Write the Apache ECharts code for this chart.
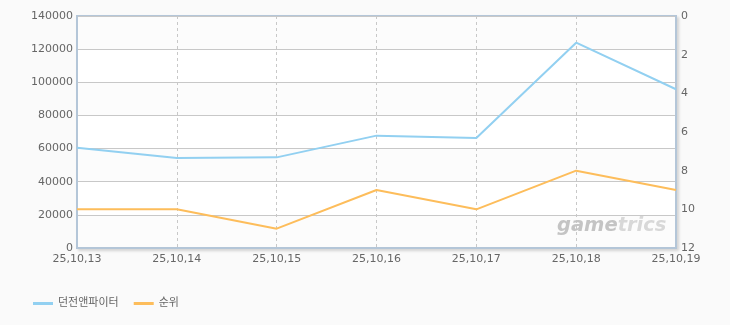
<!DOCTYPE html>
<html><head><meta charset="utf-8">
<script src="https://cdn.jsdelivr.net/npm/echarts@6/dist/echarts.min.js"></script>
<style>html,body{margin:0;padding:0;background:#fafafa}#c{width:730px;height:325px}</style>
</head><body><div id="c"></div>
<script>
const categories = ['25,10,13','25,10,14','25,10,15','25,10,16','25,10,17','25,10,18','25,10,19'];
const seriesName1 = '던전앤파이터';
const seriesName2 = '순위';
const users = [60500, 54300, 54700, 67800, 66400, 123900, 95800];
const ranks = [10, 10, 11, 9, 10, 8, 9];
const leftTicks = {min: 0, max: 140000, interval: 20000};
const rightTicks = {min: 0, max: 12, interval: 2};

const chart = echarts.init(document.getElementById('c'), null, {renderer: 'canvas'});
const font = '"DejaVu Sans", "Noto Sans CJK KR", sans-serif';
const axisLineStyle = {color: '#b4c6d8', width: 2};
const wmFont = 'italic bold 19.5px "DejaVu Sans", sans-serif';
chart.setOption({
  backgroundColor: '#fafafa',
  animation: false,
  textStyle: {fontFamily: font},
  grid: {left: 77, right: 54, top: 16, bottom: 77, show: true, backgroundColor: '#fff', borderColor: '#b4c6d8', borderWidth: 2,
    shadowColor: 'rgba(0,0,0,0.12)', shadowBlur: 3, shadowOffsetX: 2, shadowOffsetY: 2},
  legend: {left: 28, bottom: 11, itemWidth: 20, itemHeight: 3, itemGap: 15, icon: 'rect',
    textStyle: {color: '#666', fontSize: 11, fontFamily: font},
    data: [seriesName1, seriesName2]},
  xAxis: {type: 'category', data: categories, boundaryGap: false,
    axisLine: {lineStyle: axisLineStyle}, axisTick: {show: false},
    axisLabel: {color: '#666', fontSize: 11, margin: 6, interval: 0},
    splitLine: {show: true, lineStyle: {color: '#c8c8c8', type: [3, 3]}}},
  yAxis: [
    {type: 'value', min: leftTicks.min, max: leftTicks.max, interval: leftTicks.interval,
      axisLine: {show: true, lineStyle: axisLineStyle}, axisTick: {show: false},
      axisLabel: {color: '#666', fontSize: 11, margin: 4, formatter: v => String(v)},
      splitLine: {lineStyle: {color: '#c8c8c8'}},
      splitArea: {show: true, areaStyle: {color: ['#fcfcfc', '#ffffff']}}},
    {type: 'value', min: rightTicks.min, max: rightTicks.max, interval: rightTicks.interval, inverse: true, position: 'right',
      axisLine: {show: true, lineStyle: axisLineStyle}, axisTick: {show: false},
      axisLabel: {color: '#666', fontSize: 11, margin: 5, formatter: v => String(v)},
      splitLine: {show: false}}
  ],
  graphic: [{type: 'text', left: 557, top: 216, z: 1,
    style: {text: '{a|game}{b|trics}', font: wmFont,
      rich: {a: {fill: '#c4c4c4', font: wmFont}, b: {fill: '#d8d8d8', font: wmFont}}}}],
  series: [
    {name: seriesName1, type: 'line', data: users, yAxisIndex: 0, symbol: 'none',
      lineStyle: {color: '#92d0f1', width: 2}, itemStyle: {color: '#92d0f1'}, z: 3},
    {name: seriesName2, type: 'line', data: ranks, yAxisIndex: 1, symbol: 'none',
      lineStyle: {color: '#fdbd5b', width: 2}, itemStyle: {color: '#fdbd5b'}, z: 3}
  ]
});
</script></body></html>
